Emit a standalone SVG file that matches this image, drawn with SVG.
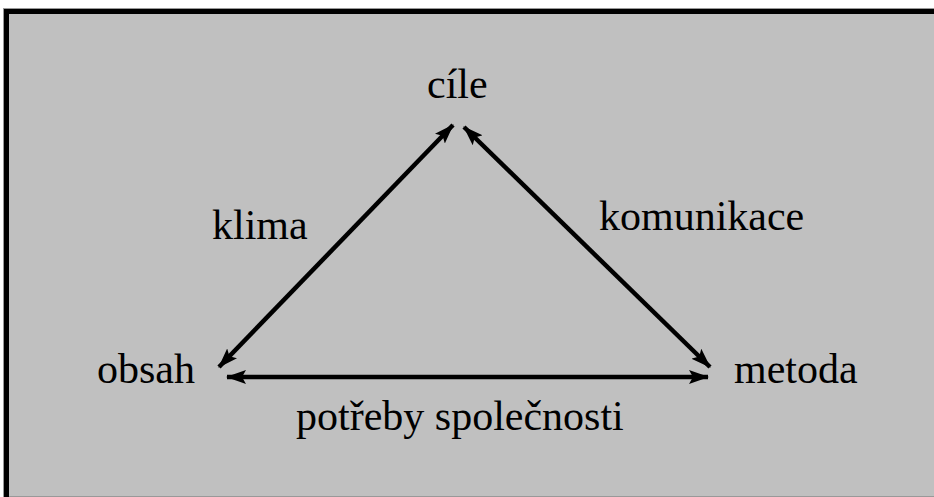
<svg xmlns="http://www.w3.org/2000/svg" width="934" height="497" viewBox="0 0 934 497">
<style>
.lbl{font-family:"Liberation Serif","Times New Roman",serif;font-size:42px;fill:#000}
.conn{stroke:#000;stroke-width:4.5;fill:none}
</style>
<defs>
<marker id="ah" viewBox="0 0 20 14" refX="19" refY="7" markerWidth="20" markerHeight="14" markerUnits="userSpaceOnUse" orient="auto-start-reverse">
<path d="M0,0 L20,7 L0,14 L4,7 z" fill="#000"/>
</marker>
</defs>
<rect x="0" y="0" width="934" height="497" fill="#fff"/>
<rect x="3.5" y="8.5" width="940" height="488" fill="#c0c0c0" stroke="#999" stroke-width="1"/>
<path d="M6.5,497 L6.5,11.5 L934,11.5" fill="none" stroke="#000" stroke-width="5"/>
<g id="connectors">
<line class="conn" x1="219" y1="367" x2="453" y2="125" marker-start="url(#ah)" marker-end="url(#ah)"/>
<line class="conn" x1="464" y1="127" x2="710" y2="367" marker-start="url(#ah)" marker-end="url(#ah)"/>
<line class="conn" x1="227" y1="377" x2="708" y2="377" marker-start="url(#ah)" marker-end="url(#ah)"/>
</g>
<g id="node-cile"><text class="lbl" x="427" y="98">cíle</text></g>
<g id="node-obsah"><text class="lbl" x="97" y="383">obsah</text></g>
<g id="node-metoda"><text class="lbl" x="734" y="383">metoda</text></g>
<g id="label-klima"><text class="lbl" x="212" y="239">klima</text></g>
<g id="label-komunikace"><text class="lbl" x="599" y="230">komunikace</text></g>
<g id="label-potreby"><text class="lbl" x="296" y="430">potřeby společnosti</text></g>
</svg>
